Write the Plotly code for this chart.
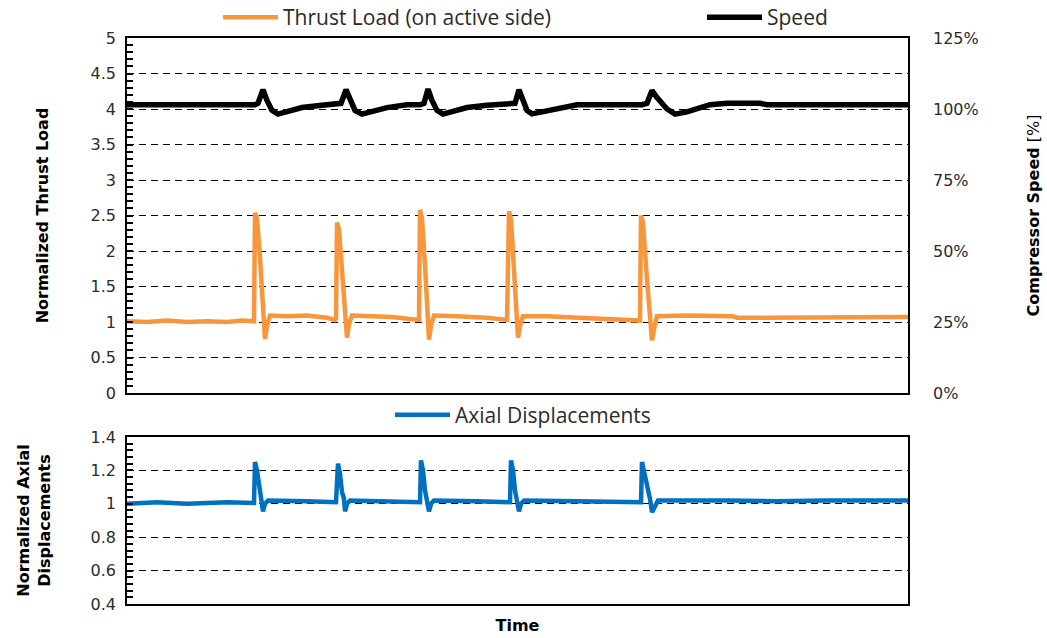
import plotly.graph_objects as go

thrust_t = [0, 20, 40, 60, 80, 100, 115, 127, 128, 130, 133, 135, 136, 138, 140, 143,
            160, 180, 200, 208, 209, 210, 212, 216, 218, 220, 222, 225, 245, 265, 285,
            292, 293, 295, 298, 300, 302, 304, 307, 330, 360, 380, 382, 384, 387, 389,
            391, 393, 396, 420, 450, 480, 505, 513, 514, 516, 520, 522, 525, 527, 530,
            560, 590, 606, 610, 650, 700, 730, 760, 781]
thrust_load = [1.01, 1.00, 1.02, 1.00, 1.01, 1.00, 1.02, 1.01, 2.54, 2.45, 1.90, 1.50, 1.30, 0.76, 0.95, 1.09,
               1.08, 1.09, 1.06, 1.03, 1.05, 2.40, 2.30, 1.50, 1.20, 0.78, 0.98, 1.09, 1.08, 1.07, 1.04,
               1.03, 2.58, 2.45, 1.80, 1.30, 0.75, 0.95, 1.09, 1.08, 1.06, 1.03, 2.56, 2.45, 1.80, 1.30,
               0.78, 0.95, 1.08, 1.08, 1.06, 1.05, 1.03, 1.02, 2.50, 2.40, 1.60, 1.30, 0.74, 0.90, 1.08,
               1.09, 1.08, 1.08, 1.06, 1.06, 1.06, 1.07, 1.07, 1.07]

speed_t = [0, 60, 128, 131, 136, 140, 145, 151, 160, 175, 195, 210, 214, 219, 223, 228, 235,
           245, 260, 280, 293, 297, 301, 305, 310, 316, 325, 340, 360, 384, 388, 392, 396,
           400, 405, 415, 430, 450, 515, 520, 525, 530, 540, 548, 560, 575, 583, 600, 633,
           640, 781]
speed_pct = [101.5, 101.5, 101.5, 102.0, 106.8, 103.0, 99.5, 98.2, 99.0, 100.5, 101.3, 101.5, 102.0, 106.8, 103.0, 99.5, 98.2,
             99.0, 100.5, 101.5, 101.5, 102.0, 107.0, 103.0, 99.5, 98.2, 99.0, 100.5, 101.3, 101.5, 102.0, 106.8, 103.0,
             99.5, 98.3, 99.0, 100.5, 101.5, 101.5, 102.0, 106.5, 104.0, 100.0, 98.2, 99.0, 100.5, 101.5, 102.0, 102.0,
             101.5, 101.5]

axial_t = [0, 30, 60, 100, 127, 128, 130, 133, 135, 136, 138, 141, 180, 209, 211, 213, 215, 217,
           218, 220, 223, 260, 293, 294, 296, 298, 300, 302, 304, 307, 350, 383, 384, 386, 388,
           390, 392, 394, 397, 450, 514, 515, 517, 520, 523, 525, 528, 531, 600, 650, 700, 781]
axial_disp = [1.00, 1.01, 1.00, 1.01, 1.005, 1.25, 1.20, 1.08, 1.03, 0.955, 1.00, 1.02, 1.015, 1.01, 1.24, 1.18, 1.07, 1.03,
              0.955, 1.00, 1.02, 1.015, 1.01, 1.26, 1.20, 1.08, 1.03, 0.955, 1.00, 1.02, 1.015, 1.01, 1.26, 1.20, 1.08,
              1.03, 0.955, 1.00, 1.02, 1.015, 1.01, 1.25, 1.20, 1.10, 1.03, 0.95, 0.99, 1.02, 1.02, 1.015, 1.02, 1.02]

speed_ticks = [0, 25, 50, 75, 100, 125]
speed_tick_text = ["0%", "25%", "50%", "75%", "100%", "125%"]

ORANGE = "#F7963C"
BLUE = "#0070C0"
TXT = "#2b2b2b"
TICK_FONT = dict(family="DejaVu Sans", size=16, color=TXT)
TITLE_FONT = dict(family="DejaVu Sans", size=16, color="black")
LEG_FONT = dict(family="Open Sans", size=21, color=TXT)
GRID_DASH = "7px,5px"

H = 638  # figure height in px, used to place the panels


def frac(px_from_top):
    return (H - px_from_top) / H


fig = go.Figure()
fig.add_trace(go.Scatter(x=thrust_t, y=thrust_load, mode="lines", name="Thrust Load (on active side)",
                         line=dict(color=ORANGE, width=4.5), xaxis="x", yaxis="y", legend="legend"))
fig.add_trace(go.Scatter(x=speed_t, y=speed_pct, mode="lines", name="Speed",
                         line=dict(color="black", width=5.5), xaxis="x", yaxis="y2", legend="legend3"))
fig.add_trace(go.Scatter(x=axial_t, y=axial_disp, mode="lines", name="Axial Displacements",
                         line=dict(color=BLUE, width=4.5), xaxis="x2", yaxis="y3", legend="legend2"))

box = dict(showline=True, linecolor="black", linewidth=1.5, mirror=True, zeroline=False)
xrange = [0, 781]
leg_common = dict(orientation="h", xanchor="left", font=LEG_FONT,
                  bgcolor="rgba(0,0,0,0)", itemwidth=55)

fig.update_layout(
    width=1047, height=H,
    margin=dict(l=127, r=139, t=0, b=0, autoexpand=False),
    plot_bgcolor="white", paper_bgcolor="white",
    xaxis=dict(domain=[0, 1], anchor="y", range=xrange, showticklabels=False, ticks="",
               showgrid=False, **box),
    yaxis=dict(domain=[frac(393), frac(38)], anchor="x", range=[0, 5], dtick=0.5, ticks="inside", ticklen=6,
               tickwidth=1.5, tickcolor="black", tickfont=TICK_FONT, ticklabelstandoff=6,
               minor=dict(dtick=0.1, ticks="inside", ticklen=6, tickwidth=1.5, tickcolor="black", showgrid=False),
               showgrid=True, gridcolor="black", gridwidth=1, griddash=GRID_DASH,
               title=dict(text="<b>Normalized Thrust Load</b>", font=TITLE_FONT, standoff=38), **box),
    yaxis2=dict(overlaying="y", side="right", anchor="x", range=[0, 125], tickmode="array",
                tickvals=speed_ticks, ticktext=speed_tick_text,
                ticks="", showgrid=False, zeroline=False, showline=False,
                tickfont=TICK_FONT, ticklabelstandoff=24,
                title=dict(text="<b>Compressor Speed</b> [%]", font=TITLE_FONT, standoff=50)),
    xaxis2=dict(domain=[0, 1], anchor="y3", range=xrange, showticklabels=False, ticks="",
                showgrid=False, title=dict(text="<b>Time</b>", font=TITLE_FONT, standoff=15), **box),
    yaxis3=dict(domain=[frac(604), frac(437)], anchor="x2", range=[0.4, 1.4], dtick=0.2, ticks="inside",
                ticklen=6, tickwidth=1.5, tickcolor="black", tickfont=TICK_FONT, ticklabelstandoff=6,
                tickformat=".1~f",
                minor=dict(dtick=0.04, ticks="inside", ticklen=6, tickwidth=1.5, tickcolor="black", showgrid=False),
                showgrid=True, gridcolor="black", gridwidth=1, griddash=GRID_DASH,
                title=dict(text="<b>Normalized Axial<br>Displacements</b>", font=TITLE_FONT, standoff=36), **box),
    legend=dict(x=(218 - 127) / 781, y=frac(-3), yanchor="top", **leg_common),
    legend3=dict(x=(702 - 127) / 781, y=frac(-3), yanchor="top", **leg_common),
    legend2=dict(x=(390 - 127) / 781, y=frac(415), yanchor="middle", **leg_common),
    showlegend=True,
)

fig.write_html("out.html")
